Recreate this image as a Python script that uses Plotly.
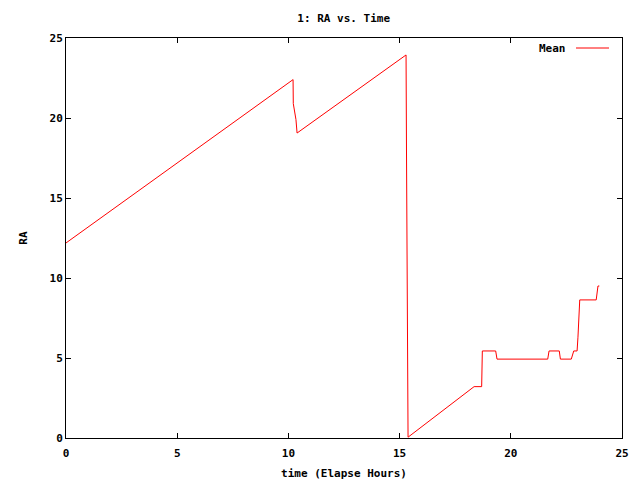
import plotly.graph_objects as go

# Data (elapsed hours, RA)
time_hours = [0.0, 10.21, 10.22, 10.34, 10.39,
              15.29, 15.31, 15.34, 15.38,
              18.35, 18.69, 18.72, 19.32, 19.38,
              21.66, 21.72, 22.18, 22.23, 22.72, 22.83,
              22.98, 23.02, 23.10, 23.84, 23.92, 23.98]
ra_mean = [12.19, 22.40, 20.9, 19.9, 19.06,
           23.94, 18.0, 6.0, 0.05,
           3.21, 3.21, 5.44, 5.44, 4.93,
           4.93, 5.44, 5.44, 4.93, 4.93, 5.44,
           5.44, 6.3, 8.63, 8.63, 9.50, 9.50]

x_ticks = [0, 5, 10, 15, 20, 25]
y_ticks = [0, 5, 10, 15, 20, 25]

FONT = "DejaVu Sans Mono"

fig = go.Figure()
fig.add_trace(go.Scatter(x=time_hours, y=ra_mean, mode="lines", name="Mean",
                         line=dict(color="#ff0000", width=1), showlegend=False))

axis_common = dict(showline=True, linecolor="black", linewidth=1, mirror="allticks",
                   ticks="inside", ticklen=5, tickcolor="black", tickwidth=1,
                   showgrid=False, zeroline=False, automargin=False,
                   tickfont=dict(family=FONT, size=11, color="black", weight="bold"))

fig.update_layout(
    width=640, height=480,
    paper_bgcolor="white", plot_bgcolor="white",
    margin=dict(l=66, r=18, t=38, b=42),
    title=dict(text="1: RA vs. Time", x=0.537, xanchor="center", y=0.962, yanchor="middle",
               font=dict(family=FONT, size=11, color="black", weight="bold")),
    xaxis=dict(range=[0, 25], tickvals=x_ticks, ticktext=[str(v) for v in x_ticks],
               ticklabelstandoff=5,
               title=dict(text="time (Elapse Hours)", standoff=10,
                          font=dict(family=FONT, size=11, color="black", weight="bold")),
               **axis_common),
    yaxis=dict(range=[0, 25], tickvals=y_ticks, ticktext=[str(v) for v in y_ticks],
               title=dict(text="RA", standoff=19,
                          font=dict(family=FONT, size=11, color="black", weight="bold")),
               **axis_common),
    showlegend=False,
)

# gnuplot-style key: text then line sample
fig.add_annotation(xref="paper", yref="paper", x=(568 - 66) / 556, y=(438 - 48) / 400,
                   text="Mean", showarrow=False, xanchor="right", yanchor="middle",
                   font=dict(family=FONT, size=11, color="black", weight="bold"))
fig.add_shape(type="line", xref="paper", yref="paper",
              x0=(576 - 66) / 556, x1=(609 - 66) / 556,
              y0=(438 - 48) / 400, y1=(438 - 48) / 400,
              line=dict(color="#ff0000", width=1))

fig.write_html("out.html", config={"displayModeBar": False},
               post_script="document.body.style.margin='0';document.body.style.overflow='hidden';")
